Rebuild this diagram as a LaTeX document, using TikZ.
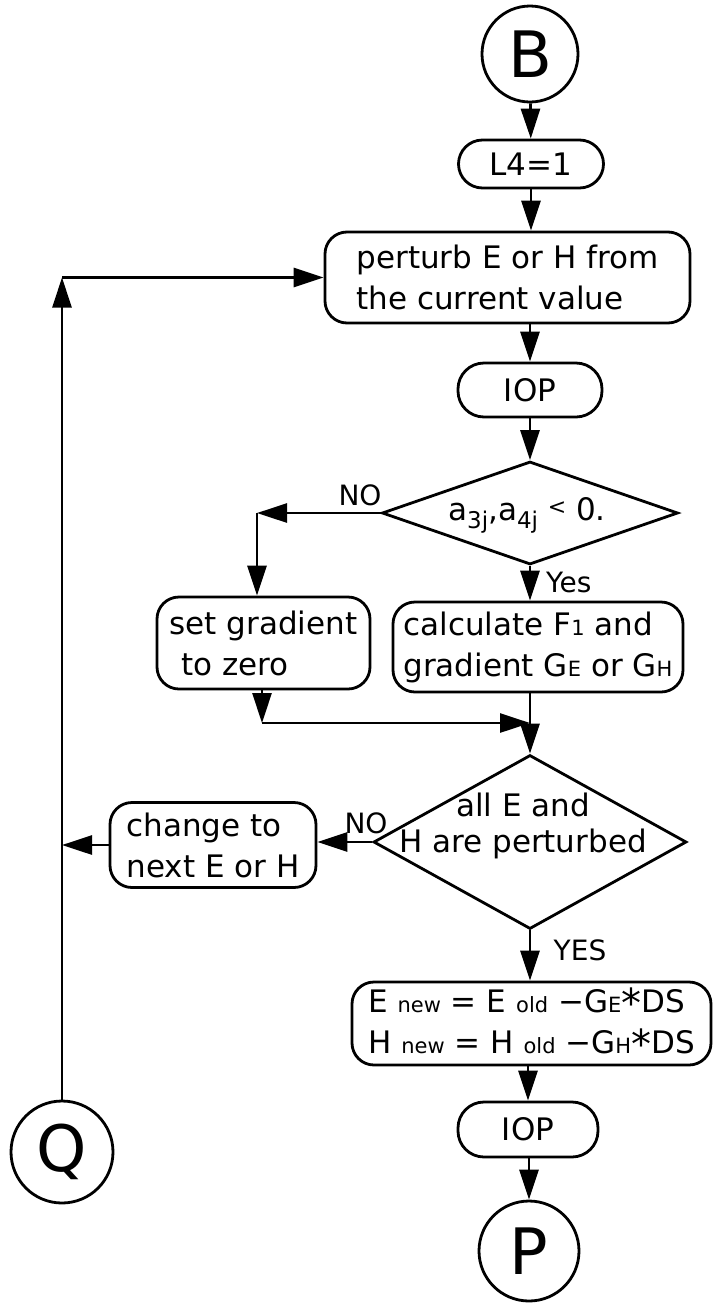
\documentclass[tikz,border=0pt]{standalone}
\usepackage{fontspec}
\setmainfont{DejaVu Sans}
\usetikzlibrary{arrows.meta,shapes.geometric}
% small letters set on (or a little below) the baseline
\newcommand{\sm}[1]{{\fontsize{21}{21}\selectfont #1}}
\newcommand{\lo}[1]{\raisebox{-8pt}{\fontsize{23}{23}\selectfont #1}}
\newcommand{\bigstar}{\raisebox{-5pt}{\fontsize{40}{40}\selectfont *}}
\tikzset{
  ln/.style={line width=2.8pt},
  arr/.style={ln, -{Triangle[length=30pt,width=19pt]}},
  box/.style={draw, ln, rounded corners=22pt, inner sep=0pt, align=left,
              font=\fontsize{31}{41}\selectfont},
  conn/.style={draw, circle, ln, inner sep=0pt, font=\fontsize{64}{64}\selectfont},
  dia/.style={draw, diamond, ln, inner sep=0pt},
  lab/.style={inner sep=0pt, font=\fontsize{31}{36}\selectfont},
  tag/.style={inner sep=0pt, font=\fontsize{28}{28}\selectfont},
}
\begin{document}
\begin{tikzpicture}[x=1pt,y=-1pt]
\useasboundingbox (0,0) rectangle (713,1307);

% main column
\node[conn, minimum size=96pt] (B) at (530,54) {B};
\node[box, minimum width=145pt, minimum height=48pt, rounded corners=24pt] (L4) at (531,164) {L4=1};
\node[box, minimum width=365pt, minimum height=91pt] (pert) at (507.5,277.5)
  {perturb E or H from\\the current value};
\node[box, minimum width=144pt, minimum height=54pt, rounded corners=26pt] (iop1) at (530,390) {IOP};
\node[dia, minimum width=296pt, minimum height=103pt] (d1) at (530,513) {};
\node[lab] (d1t) at (527,515) {a\lo{3j},a\lo{4j} \raisebox{6pt}{\fontsize{22}{22}\selectfont<} 0.};

% the two branches
\node[box, minimum width=213pt, minimum height=92pt] (set) at (263.5,643)
  {set gradient\\\hspace*{12pt}to zero};
\node[box, minimum width=290pt, minimum height=90pt] (calc) at (538,647)
  {calculate F\sm{1} and\\gradient G\sm{E} or G\sm{H}};

% end-of-loop test
\node[dia, minimum width=313pt, minimum height=174pt] (d2) at (530,842) {};
\node[lab, align=center] (d2t) at (523,826) {all E and\\H are perturbed};
\node[box, minimum width=206pt, minimum height=85pt] (chg) at (213,845)
  {change to\\next E or H};

% update step
\node[box, minimum width=359pt, minimum height=83pt, align=left] (upd) at (531.5,1023.5)
  {E \sm{new} = E \sm{old} −G\sm{E}\bigstar DS\\H \sm{new} = H \sm{old} −G\sm{H}\bigstar DS};
\node[box, minimum width=140pt, minimum height=55pt, rounded corners=26pt] (iop2) at (528,1129.5) {IOP};
\node[conn, minimum size=100pt] (P) at (529,1251) {P};
\node[conn, minimum size=102pt] (Q) at (62,1152) {Q};

% branch labels
\node[tag] (no1) at (360,495) {NO};
\node[tag, anchor=west] (yes1) at (546,582) {Yes};
\node[tag] (no2) at (366,823) {NO};
\node[tag] (yes2) at (580,950) {YES};

% bend and junction points
\coordinate (noC) at (257,513);
\coordinate (j1) at (262,723);
\coordinate (j2) at (d2.north |- j1);

% connectors
\draw[arr] (B) -- (L4);
\draw[arr] (L4.south) -- (L4.south |- pert.north);
\draw[arr] (iop1.north |- pert.south) -- (iop1.north);
\draw[arr] (iop1.south) -- (d1.north);
\draw[arr] (d1.west) -- (noC);
\draw[arr] (noC) -- (noC |- set.north);
\draw[arr] (d1.south) -- (d1.south |- calc.north);
\draw[arr] (j1 |- set.south) -- (j1);
\draw[arr] (j1) -- (j2);
\draw[arr] (d2.north |- calc.south) -- (d2.north);
\draw[arr] (d2.west) -- (d2.west -| chg.east);
\draw[arr] (chg.west) -- (chg.west -| Q.north);
\draw[arr] (Q.north) -- (Q.north |- pert.west);
\draw[arr] (Q.north |- pert.west) -- (pert.west);
\draw[arr] (d2.south) -- (d2.south |- upd.north);
\draw[arr] (iop2.north |- upd.south) -- (iop2.north);
\draw[arr] (P.north |- iop2.south) -- (P.north);
\end{tikzpicture}
\end{document}
